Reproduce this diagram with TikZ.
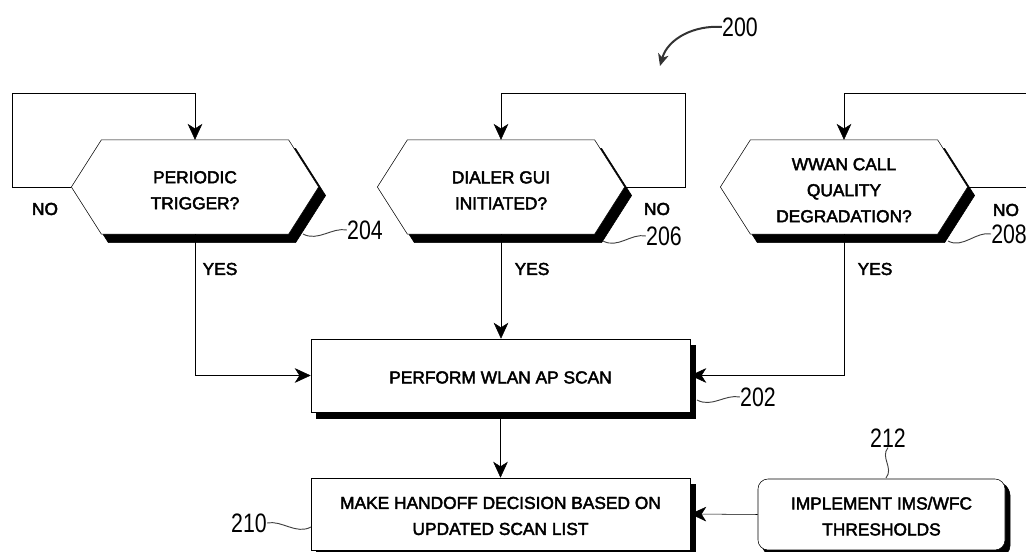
\documentclass[tikz,border=0pt]{standalone}
\usepackage{fontspec}
\setmainfont{Liberation Sans}
\newfontfamily\txtfont[FakeBold=2.5]{Liberation Sans}
\newfontfamily\numfont[FakeStretch=0.8]{Liberation Sans}
\usetikzlibrary{arrows.meta,calc,shadows}
\pgfdeclarelayer{bg}
\pgfsetlayers{bg,main}
\newcommand{\hexoutline}[1]{($(#1.north west)+(30,0)$) -- ($(#1.north east)+(-30,0)$) -- (#1.east) -- ($(#1.south east)+(-30,0)$) -- ($(#1.south west)+(30,0)$) -- (#1.west) -- cycle}
\newcommand{\hup}{\rule{0pt}{14pt}}
\newcommand{\bup}{\rule{0pt}{12pt}}
\begin{document}
\begin{tikzpicture}[x=0.75pt,y=-0.75pt,line width=1.7pt,
  txt/.style={font=\txtfont\fontsize{13}{19.5}\selectfont,align=center},
  hexnode/.style={txt,minimum width=183.75pt,minimum height=69pt,inner sep=0pt},
  boxnode/.style={txt,draw,fill=white,inner sep=0pt,
    general shadow={draw=black,fill=black,shadow xshift=3.75pt,shadow yshift=-4.5pt}},
  lbl/.style={font=\txtfont\fontsize{13}{15}\selectfont,inner sep=0pt},
  num/.style={font=\numfont\fontsize{20}{22}\selectfont,inner sep=0pt},
  arr/.style={-{Stealth[length=12pt,width=11pt,inset=3.5pt]}},
  smallarr/.style={-{Stealth[length=9pt,width=8pt,inset=2.5pt]}},
  lead/.style={line width=0.7pt,black!75},
]
\useasboundingbox (0,0) rectangle (1026,552);

% decision nodes
\node[hexnode] (h1) at (195,187) {\hup PERIODIC\\TRIGGER?};
\node[hexnode] (h2) at (501,187) {\hup DIALER GUI\\INITIATED?};
\node[hexnode] (h3) at (844,187) {\hup WWAN CALL\\QUALITY\\DEGRADATION?};

\begin{pgfonlayer}{bg}
  \foreach \n in {h1,h2,h3}{
    \begin{scope}[transform canvas={xshift=5.25pt,yshift=-6.4pt}]
      \filldraw[black] \hexoutline{\n};
    \end{scope}
    \filldraw[fill=white,draw=black] \hexoutline{\n};
  }
\end{pgfonlayer}

% process boxes
\node[boxnode,minimum width=284.25pt,minimum height=54.75pt] (b202) at (500.5,375.5) {\bup PERFORM WLAN AP SCAN};
\node[boxnode,minimum width=284.25pt,minimum height=54pt] (b210) at (500.5,514) {\bup MAKE HANDOFF DECISION BASED ON\\UPDATED SCAN LIST};
\node[boxnode,rounded corners=7.5pt,minimum width=185.25pt,minimum height=53.25pt,
  general shadow={draw=black,fill=black,shadow xshift=3pt,shadow yshift=-3pt}] (b212) at (881.5,514.5) {\bup IMPLEMENT IMS/WFC\\THRESHOLDS};

% loop coordinates
\coordinate (l1a) at (12,187);
\coordinate (l1b) at (12,93);
\coordinate (l2a) at (685,187);
\coordinate (l2b) at (685,93);
\coordinate (l3a) at (1026,187);
\coordinate (l3b) at (1026,93);

% connectors
\draw[arr] (h1.west) -- (l1a) -- (l1b) -| (h1.north);
\draw[arr] (h2.east) -- (l2a) -- (l2b) -| (h2.north);
\draw (h3.east) -- (l3a);
\draw[arr] (l3b) -| (h3.north);
\draw[arr] (h1.south) |- (b202.west);
\draw[arr] (h2.south) -- (h2.south |- b202.north);
\draw[arr] (h3.south) |- (b202.east);
\draw[arr] (b202.south) -- (b210.north);
\draw[arr] (b212.west) -- (b210.east);

% branch labels
\node[lbl] (no1) at (45,209) {NO};
\node[lbl] (no2) at (657,209) {NO};
\node[lbl] (no3) at (1006,210) {NO};
\node[lbl] (yes1) at (220,269) {YES};
\node[lbl] (yes2) at (532,269) {YES};
\node[lbl] (yes3) at (875,269) {YES};

% reference numerals
\node[num] (n200) at (740,27) {200};
\node[num] (n204) at (365,230) {204};
\node[num] (n206) at (664,236) {206};
\node[num,anchor=west] (n208) at (991,234) {208};
\node[num] (n202) at (758,397) {202};
\node[num] (n210) at (249,523) {210};
\node[num] (n212) at (888,438) {212};

\coordinate (s204) at (303,234);
\coordinate (s206) at (603,241);
\coordinate (s208) at (948,241);
\coordinate (s202) at (697,400);
\coordinate (s210) at (311,527);
\coordinate (s212) at (886,478);
\coordinate (t200) at (660,66);

\draw[lead] (s204) .. controls +(15,8) and +(-15,-3) .. (n204.west);
\draw[lead] (s206) .. controls +(15,8) and +(-15,-3) .. (n206.west);
\draw[lead] (s208) .. controls +(15,8) and +(-15,-3) .. (n208.west);
\draw[lead] (s202) .. controls +(15,8) and +(-15,-3) .. (n202.west);
\draw[lead] (n210.east) .. controls +(15,-3) and +(-15,8) .. (s210);
\draw[lead] (n212.south) .. controls +(-8,10) and +(8,-10) .. (s212);
\draw[smallarr,line width=1.5pt,black!80] (n200.west) .. controls (695,25) and (668,38) .. (t200);
\end{tikzpicture}
\end{document}
